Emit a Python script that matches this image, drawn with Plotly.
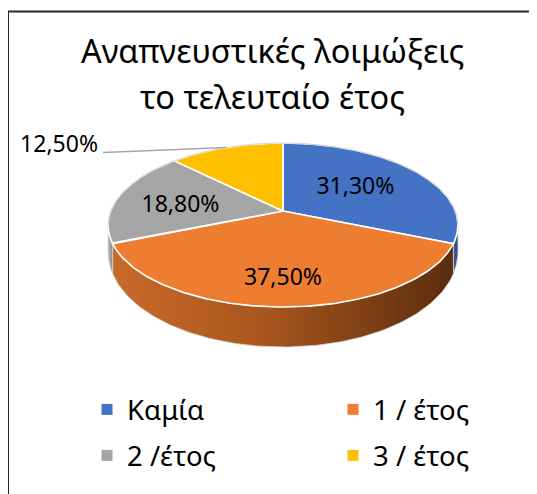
import numpy as np
import plotly.graph_objects as go

# ---------------- data ----------------
categories = ["Καμία", "1 / έτος", "2 /έτος", "3 / έτος"]
values = [31.3, 37.5, 18.8, 12.5]
value_labels = ["31,30%", "37,50%", "18,80%", "12,50%"]
title_lines = ["Αναπνευστικές λοιμώξεις", "το τελευταίο έτος"]

# ---------------- style ----------------
FONT = "Noto Sans, Open Sans, DejaVu Sans, sans-serif"
top_colors = ["#4472C4", "#ED7D31", "#A5A5A5", "#FFC000"]
side_scales = [
    [[0, "#3F63A6"], [1, "#2A4374"]],
    [[0, "#C96A2A"], [0.45, "#A8551D"], [1, "#5A2D0E"]],
    [[0, "#B2B2B2"], [1, "#8E8E8E"]],
    [[0, "#D9A300"], [1, "#A67C00"]],
]
legend_ids = ["legend", "legend2", "legend3", "legend4"]
# legend marker centres (page px): column x, row y
legend_pos = [(107, 409.5), (353, 409.5), (107, 455.5), (353, 455.5)]
LABEL_R = [0.53, 0.75, 0.6, None]        # radial position of inside labels
LABEL_SHIFT = [(0, 0), (0, 0), (-3, 4), (0, 0)]

# page offset (browser body margin) and figure size
OFF = 8
W, H = 537, 494

# projection of the tilted disc (perspective)
CX, CY0 = 283.0, 211.0
KX, KY, PERS = 172.4, 43.6, -0.1707
TH0, TH1 = 24.0, 16.0


def proj(r, th):
    u = r * np.sin(th)
    v = -r * np.cos(th)
    d = 1 + PERS * v
    return CX + KX * u / d, (KY * v + CY0) / d


def depth(th):
    return TH0 + TH1 * (-np.cos(th))


total = sum(values)
bounds = np.concatenate([[0.0], np.cumsum(np.array(values) / total)]) * 2 * np.pi
thR = np.arccos(PERS)
thL = 2 * np.pi - thR

fig = go.Figure()

# side walls
for i in range(len(values)):
    lo, hi = max(bounds[i], thR), min(bounds[i + 1], thL)
    if lo >= hi:
        continue
    t = np.linspace(lo, hi, 120)
    xt, yt = proj(1.0, t)
    yb = yt + depth(t)
    xs = np.concatenate([xt, xt[::-1], xt[:1]])
    ys = np.concatenate([yt, yb[::-1], yt[:1]])
    fig.add_trace(go.Scatter(
        x=xs, y=ys, mode="lines", fill="toself",
        fillgradient=dict(type="horizontal", colorscale=side_scales[i]),
        line=dict(color="#D6D6D6", width=0.8),
        hoverinfo="skip", showlegend=False))

# top faces
for i in range(len(values)):
    t = np.linspace(bounds[i], bounds[i + 1], 160)
    xt, yt = proj(1.0, t)
    xs = np.concatenate([[CX], xt, [CX]])
    ys = np.concatenate([[CY0], yt, [CY0]])
    fig.add_trace(go.Scatter(
        x=xs, y=ys, mode="lines", fill="toself", fillcolor=top_colors[i],
        line=dict(color="white", width=1.6),
        hoverinfo="skip", showlegend=False))

# faint outline of the back rim
t = np.linspace(thL, thR + 2 * np.pi, 200)
xo, yo = proj(1.0, t)
fig.add_trace(go.Scatter(x=xo, y=yo, mode="lines",
                         line=dict(color="#D0D0D0", width=1),
                         hoverinfo="skip", showlegend=False))

# labels
lx, ly, lt = [], [], []
for i in range(len(values)):
    if LABEL_R[i] is None:
        continue
    mid = (bounds[i] + bounds[i + 1]) / 2
    x, y = proj(LABEL_R[i], mid)
    lx.append(x + LABEL_SHIFT[i][0])
    ly.append(y + LABEL_SHIFT[i][1])
    lt.append(value_labels[i])
fig.add_trace(go.Scatter(x=lx, y=ly, text=lt, mode="text",
                         textposition="middle center",
                         textfont=dict(family=FONT, size=23, color="black"),
                         hoverinfo="skip", showlegend=False))

# outside label with leader line (last slice)
mid = (bounds[3] + bounds[4]) / 2
ex, ey = proj(1.0, mid)
fig.add_trace(go.Scatter(x=[103, ex], y=[152.5, ey], mode="lines",
                         line=dict(color="#A6A6A6", width=1.5),
                         hoverinfo="skip", showlegend=False))
fig.add_trace(go.Scatter(x=[98], y=[146], text=[value_labels[3]], mode="text",
                         textposition="middle left",
                         textfont=dict(family=FONT, size=23, color="black"),
                         hoverinfo="skip", showlegend=False))

# legend entries (one small legend per entry, laid out 2x2)
for i, name in enumerate(categories):
    fig.add_trace(go.Scatter(x=[None], y=[None], mode="markers", name=name,
                             marker=dict(symbol="square", size=11, color=top_colors[i]),
                             legend=legend_ids[i], hoverinfo="skip"))

# title
fig.add_annotation(x=272, y=50, text=title_lines[0], showarrow=False,
                   xanchor="center", yanchor="middle",
                   font=dict(family=FONT, size=32.5, color="black"))
fig.add_annotation(x=272, y=96, text=title_lines[1], showarrow=False,
                   xanchor="center", yanchor="middle",
                   font=dict(family=FONT, size=32.5, color="black"))

legends = {}
for lid, (px, py) in zip(legend_ids, legend_pos):
    legends[lid] = dict(
        orientation="h", xanchor="left", yanchor="middle",
        x=(px - 20 - OFF) / W, y=1 - (py - OFF) / H,
        font=dict(family=FONT, size=27.5, color="black"),
        bgcolor="rgba(0,0,0,0)", itemwidth=30, itemclick=False,
        itemdoubleclick=False)

fig.update_layout(
    width=W, height=H,
    margin=dict(l=0, r=0, t=0, b=0),
    paper_bgcolor="white", plot_bgcolor="white",
    xaxis=dict(range=[OFF, OFF + W], visible=False, fixedrange=True),
    yaxis=dict(range=[OFF + H, OFF], visible=False, fixedrange=True),
    shapes=[dict(type="rect", xref="x", yref="y", x0=8, y0=11.5, x1=600, y1=600,
                 line=dict(color="#262626", width=2), layer="above")],
    **legends,
)

fig.write_html("out.html")
